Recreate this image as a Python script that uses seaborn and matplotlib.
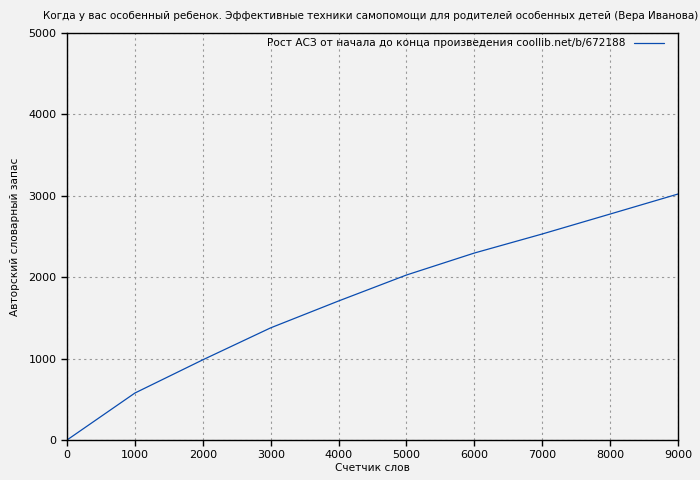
import pandas as pd
import matplotlib
matplotlib.use("Agg")
import matplotlib.pyplot as plt
import seaborn as sns

# Data
words = [0, 1000, 2000, 3000, 4000, 5000, 6000, 7000, 8000, 9000]
vocab = [0, 577, 985, 1378, 1708, 2027, 2297, 2531, 2776, 3022]

title = "Когда у вас особенный ребенок. Эффективные техники самопомощи для родителей особенных детей (Вера Иванова)"
series_name = "Рост АСЗ от начала до конца произведения coollib.net/b/672188"

df = pd.DataFrame({"words": words, "vocab": vocab, "name": series_name})

sns.set_style("ticks", {
    "axes.facecolor": "#f2f2f2",
    "figure.facecolor": "#f2f2f2",
    "axes.edgecolor": "black",
    "text.color": "black",
    "axes.labelcolor": "black",
    "xtick.color": "black",
    "ytick.color": "black",
})
plt.rcParams["font.family"] = ["DejaVu Sans"]
plt.rcParams["font.size"] = 8

fig = plt.figure(figsize=(7, 4.8), dpi=100)
ax = fig.add_axes([0.0957, 0.0833, 0.873, 0.848])

sns.lineplot(data=df, x="words", y="vocab", hue="name",
             palette=["#0a4cb0"], linewidth=0.9, ax=ax)

ax.set_xlim(0, 9000)
ax.set_ylim(0, 5000)
ax.set_xticks(range(0, 9001, 1000))
ax.set_yticks(range(0, 5001, 1000))
ax.grid(True, color="#999999", linestyle=(0, (2, 3)), linewidth=0.8)
for s in ax.spines.values():
    s.set_linewidth(1.0)
ax.tick_params(direction="out", length=4, width=1, labelsize=8, colors="black")

ax.set_xlabel("Счетчик слов", fontsize=7.6, labelpad=2)
ax.set_ylabel("Авторский словарный запас", fontsize=7.6, labelpad=6)

ax.legend(loc="upper right", bbox_to_anchor=(0.985, 1.0), frameon=False,
          markerfirst=False, handlelength=2.8, fontsize=7.6, borderaxespad=0.1)

fig.text(43 / 700, 1 - 16 / 480, title, ha="left", va="center", fontsize=7.5)

fig.savefig("out.png", dpi=100, facecolor=fig.get_facecolor())
